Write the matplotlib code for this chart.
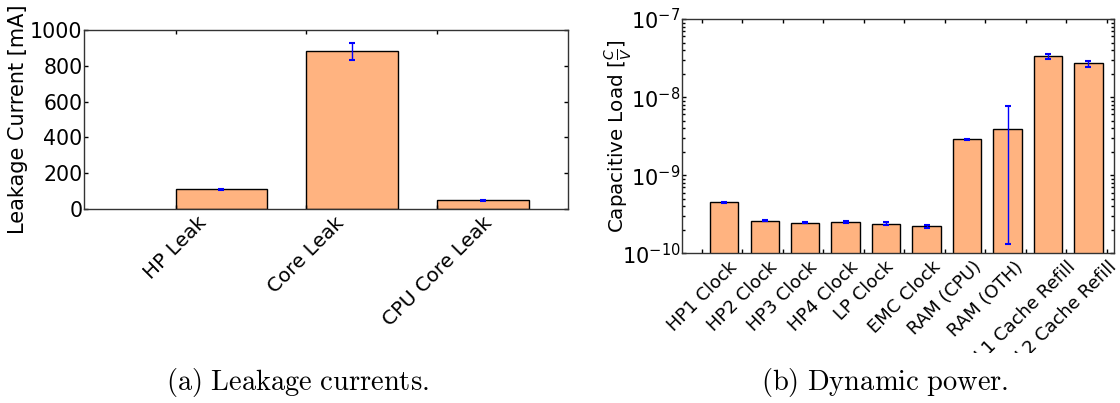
import matplotlib
matplotlib.use('Agg')
import matplotlib.pyplot as plt
import numpy as np
from matplotlib.transforms import Bbox, TransformedBbox
from matplotlib.ticker import LogLocator, NullFormatter

# ---- data ----
leak_labels = ['HP Leak', 'Core Leak', 'CPU Core Leak']
leak_values = [107, 882, 45]
leak_errors = [4, 48, 3]

dyn_labels = ['HP1 Clock', 'HP2 Clock', 'HP3 Clock', 'HP4 Clock', 'LP Clock',
              'EMC Clock', 'RAM (CPU)', 'RAM (OTH)', 'L1 Cache Refill', 'L2 Cache Refill']
dyn_values = [4.5e-10, 2.63e-10, 2.47e-10, 2.5e-10, 2.4e-10, 2.22e-10,
              2.9e-9, 3.9e-9, 3.36e-8, 2.7e-8]
dyn_errors = [0.05e-10, 0.06e-10, 0.06e-10, 0.06e-10, 0.1e-10, 0.1e-10,
              0.5e-10, 3.77e-9, 2.5e-9, 2.4e-9]

bar_color = '#ffb380'
err_color = '#0000ff'
W = 0.7

fig = plt.figure(figsize=(11.2, 4.03), dpi=100)

# ---- (a) leakage ----
ax1 = fig.add_axes([84 / 1120, 1 - 208.5 / 403, 484 / 1120, 178.3 / 403])
x1 = np.arange(len(leak_values))
ax1.bar(x1, leak_values, W, color=bar_color, edgecolor='black', linewidth=1)
ax1.errorbar(x1, leak_values, yerr=leak_errors, fmt='none', ecolor=err_color,
             elinewidth=1, capsize=2.5, capthick=1.5)
ax1.set_xlim(-1.05, 2.65)
ax1.set_ylim(0, 1000)
ax1.set_xticks(x1 - W / 2)
ax1.set_xticklabels(leak_labels, rotation=45, ha='center', fontsize=14.3)
ax1.set_yticks([0, 200, 400, 600, 800, 1000])
ax1.tick_params(axis='y', labelsize=14.8, pad=1)
ax1.set_ylabel('Leakage Current [mA]', fontsize=15)
ax1.yaxis.set_label_coords(-0.116, 0.5)

# ---- (b) dynamic ----
ax2 = fig.add_axes([681.7 / 1120, 1 - 253.3 / 403, 432.3 / 1120, 234.3 / 403])
x2 = np.arange(len(dyn_values))
ax2.bar(x2, dyn_values, W, color=bar_color, edgecolor='black', linewidth=1)
ax2.errorbar(x2, dyn_values, yerr=dyn_errors, fmt='none', ecolor=err_color,
             elinewidth=1, capsize=2.5, capthick=1.5)
ax2.set_yscale('log')
ax2.set_ylim(1e-10, 1e-7)
ax2.set_xlim(-1.05, 9.63)
ax2.set_xticks(np.arange(len(dyn_values) + 1) - 0.55)
ax2.set_xticklabels(dyn_labels + [''], rotation=45, ha='center', fontsize=13)
ax2.yaxis.set_major_locator(LogLocator(base=10, numticks=10))
ax2.yaxis.set_minor_locator(LogLocator(base=10, subs=np.arange(2, 10), numticks=20))
ax2.yaxis.set_minor_formatter(NullFormatter())
ax2.tick_params(axis='y', labelsize=15, pad=1)
ax2.set_ylabel(r'Capacitive Load [$\frac{C}{V}$]', fontsize=14.3)
ax2.yaxis.set_label_coords(-0.11, 0.5)

for ax in (ax1, ax2):
    ax.tick_params(which='both', direction='in', top=True, right=True, width=1)
    ax.tick_params(which='major', length=3)
    ax.tick_params(which='minor', length=2)
    for s in ax.spines.values():
        s.set_color('#333333')
        s.set_linewidth(1.0)

# ---- captions ----
fig.text(297.5 / 1120, 1 - 390 / 403, r'$\mathrm{(a)\ Leakage\ currents.}$',
         ha='center', va='baseline', fontsize=20.5, math_fontfamily='cm')
fig.text(885 / 1120, 1 - 390 / 403, r'$\mathrm{(b)\ Dynamic\ power.}$',
         ha='center', va='baseline', fontsize=20.5, math_fontfamily='cm')

# clip the right panel's tick labels like the cropped subfigure
fig.canvas.draw()
clip = TransformedBbox(Bbox.from_extents(0, 1 - 353 / 403, 1, 1), fig.transFigure)
for lbl in ax2.get_xticklabels():
    lbl.set_clip_on(True)
    lbl.set_clip_box(clip)

fig.savefig('out.png', dpi=100)
